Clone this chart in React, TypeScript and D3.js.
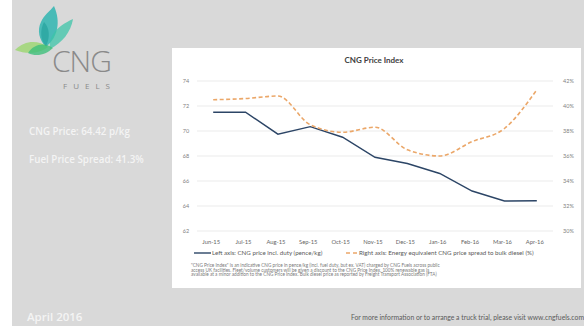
import React from "react";
import * as d3 from "d3";

const categories = ["Jun-15","Jul-15","Aug-15","Sep-15","Oct-15","Nov-15","Dec-15","Jan-16","Feb-16","Mar-16","Apr-16"];
const cngPrice = [71.5, 71.5, 69.75, 70.35, 69.5, 67.9, 67.4, 66.6, 65.2, 64.4, 64.42];
const spread = [40.5, 40.6, 40.8, 38.5, 37.9, 38.3, 36.5, 36.0, 37.15, 38.2, 41.3];
const leftTicks = [62, 64, 66, 68, 70, 72, 74];
const rightTicks = [30, 32, 34, 36, 38, 40, 42];
const footnote = [
  "\"CNG Price Index\" is an indicative CNG price in pence/kg (incl. fuel duty, but ex. VAT) charged by CNG Fuels across public",
  "access UK facilities. Fleet/volume customers will be given a discount to the CNG Price Index. 100% renewable gas is",
  "available at a minor addition to the CNG Price Index. Bulk diesel price as reported by Freight Transport Association (FTA)",
];

export default function App() {
  const W = 584, H = 326;
  const x = d3.scaleBand().domain(categories).range([197, 553]);
  const yL = d3.scaleLinear().domain([62, 74]).range([231, 81]);
  const yR = d3.scaleLinear().domain([30, 42]).range([231, 81]);
  const cx = (c: string) => (x(c) as number) + x.bandwidth() / 2;
  const lineL = d3.line<number>().x((_, i) => cx(categories[i])).y(d => yL(d));
  const lineR = d3.line<number>().x((_, i) => cx(categories[i])).y(d => yR(d)).curve(d3.curveMonotoneX);
  const f = "Lato, 'Open Sans', sans-serif";
  return (
    <svg width={W} height={H} style={{ position: "absolute", left: 0, top: 0 }}>
      <rect x={0} y={0} width={W} height={H} fill="#ffffff" />
      <rect x={12} y={0} width={W - 12} height={H} fill="#d9d9d9" />
      {/* logo */}
      <g>
        <path d="M54,6 C61,22 58,37 46,47 C39,40 37,30 41,22 C44,15 50,11 54,6 Z" fill="#2fb5b0" opacity={0.85} />
        <path d="M73,19 C71,32 62,43 50,49 C48,38 55,27 73,19 Z" fill="#3cc4a8" opacity={0.75} />
        <path d="M15,50 C25,40 38,40 48,47 C40,53 28,55 15,50 Z" fill="#9bd66e" opacity={0.8} />
        <path d="M28,53 C34,44 44,42 53,48 C46,55 36,57 28,53 Z" fill="#3fbf7a" opacity={0.8} />
        <path d="M44,22 C40,30 40,40 46,46 C50,38 50,28 44,22 Z" fill="#1f9f9a" opacity={0.6} />
      </g>
      <text x={52} y={72} fontFamily="'Open Sans', sans-serif" fontWeight={300} fontSize={30} fill="#8a8a8a" letterSpacing={-1}>CNG</text>
      <text x={63} y={89} fontFamily="'Open Sans', sans-serif" fontSize={8} fill="#8a8a8a" letterSpacing={6}>FUELS</text>
      <text x={29} y={135} fontFamily="'Open Sans', sans-serif" fontWeight={600} fontSize={9.8} fill="#f4f4f4">CNG Price: 64.42 p/kg</text>
      <text x={29} y={163} fontFamily="'Open Sans', sans-serif" fontWeight={600} fontSize={9.8} fill="#f4f4f4">Fuel Price Spread: 41.3%</text>
      <text x={27} y={321} fontFamily="'Open Sans', sans-serif" fontWeight={600} fontSize={11.5} fill="#f4f4f4">April 2016</text>
      <text x={584} y={320} textAnchor="end" fontFamily={f} fontSize={6.8} fill="#595959">For more information or to arrange a truck trial, please visit www.cngfuels.com</text>
      {/* chart panel */}
      <rect x={172} y={48} width={409} height={240} fill="#ffffff" />
      <text x={374} y={63} textAnchor="middle" fontFamily={f} fontWeight={700} fontSize={8} fill="#404040">CNG Price Index</text>
      {leftTicks.map(t => (
        <g key={t}>
          <line x1={197} x2={553} y1={yL(t)} y2={yL(t)} stroke="#e3e3e3" strokeWidth={0.7} />
          <text x={186} y={yL(t) + 2} textAnchor="middle" fontFamily={f} fontSize={5.5} fill="#7f7f7f">{t}</text>
        </g>
      ))}
      {rightTicks.map(t => (
        <text key={t} x={563} y={yR(t) + 2} fontFamily={f} fontSize={5.5} fill="#7f7f7f">{t}%</text>
      ))}
      {categories.map(c => (
        <text key={c} x={cx(c) - 2} y={244} textAnchor="middle" fontFamily={f} fontSize={5.8} fill="#666">{c}</text>
      ))}
      <path d={lineL(cngPrice) || ""} fill="none" stroke="#2c4566" strokeWidth={1.4} />
      <path d={lineR(spread) || ""} fill="none" stroke="#eba769" strokeWidth={1.6} strokeDasharray="4,2.5" />
      {/* legend */}
      <line x1={194} x2={211} y1={253} y2={253} stroke="#2c4566" strokeWidth={1.4} />
      <text x={212} y={255} fontFamily={f} fontSize={6.2} fill="#595959">Left axis: CNG price incl. duty (pence/kg)</text>
      <line x1={346} x2={357} y1={253} y2={253} stroke="#eba769" strokeWidth={1.6} strokeDasharray="4,3" />
      <text x={359} y={255} fontFamily={f} fontSize={6.2} fill="#595959">Right axis: Energy equivalent CNG price spread to bulk diesel (%)</text>
      {footnote.map((l, i) => (
        <text key={i} x={191} y={267 + i * 4.6} fontFamily={f} fontSize={4.7} fill="#7a7a7a">{l}</text>
      ))}
    </svg>
  );
}
